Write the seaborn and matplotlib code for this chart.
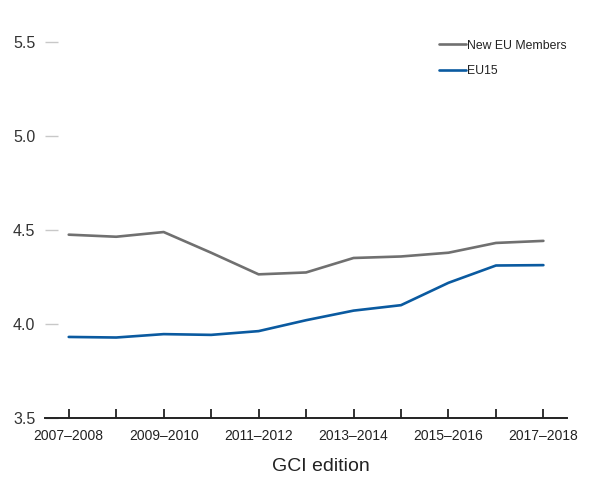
import numpy as np
import pandas as pd
import matplotlib
matplotlib.use("Agg")
import matplotlib.pyplot as plt
import seaborn as sns

editions = ["2007–2008", "2008–2009", "2009–2010", "2010–2011", "2011–2012", "2012–2013",
            "2013–2014", "2014–2015", "2015–2016", "2016–2017", "2017–2018"]
new_eu = [4.476, 4.465, 4.49, 4.38, 4.265, 4.275, 4.352, 4.36, 4.38, 4.432, 4.443]
eu15 = [3.932, 3.929, 3.947, 3.943, 3.963, 4.021, 4.072, 4.101, 4.22, 4.312, 4.314]
series_names = ["New EU Members", "EU15"]
colors = ["#707070", "#0a5aa0"]
yticks = [3.5, 4.0, 4.5, 5.0, 5.5]
xlabel = "GCI edition"

df = pd.DataFrame({
    "edition": editions * 2,
    "value": new_eu + eu15,
    "series": [series_names[0]] * len(editions) + [series_names[1]] * len(editions),
})

sns.set_theme(style="white")
plt.rcParams["font.family"] = ["Liberation Sans", "DejaVu Sans"]

fig = plt.figure(figsize=(5.92, 4.79), dpi=100)
ax = fig.add_axes([0.076, 0.127, 0.882, 0.785])

sns.lineplot(data=df, x="edition", y="value", hue="series", hue_order=series_names,
             palette=colors, linewidth=1.9, ax=ax, sort=False)

ax.set_xlim(-0.5, len(editions) - 0.5)
ax.set_ylim(3.5, 5.5)
ax.set_yticks(yticks)
ax.set_yticklabels([f"{v:.1f}" for v in yticks], fontsize=11.5, color="#333333")
ax.tick_params(axis="y", direction="in", length=9.5, width=1.0, color="#c8c8c8", pad=7, left=True)

ax.set_xticks(range(len(editions)))
ax.set_xticklabels([lab if i % 2 == 0 else "" for i, lab in enumerate(editions)], fontsize=10, color="#222222")
ax.tick_params(axis="x", direction="in", length=6.5, width=1.3, color="#222222", pad=8, bottom=True)

for s in ["top", "right", "left"]:
    ax.spines[s].set_visible(False)
ax.spines["bottom"].set_color("#222222")
ax.spines["bottom"].set_linewidth(1.4)

ax.set_xlabel(xlabel, fontsize=14, color="#222222", labelpad=13)
ax.xaxis.set_label_coords(0.529, -0.105)
ax.set_ylabel("")

leg = ax.legend(loc="upper right", bbox_to_anchor=(1.008, 1.02), frameon=False, fontsize=8.8,
                handlelength=2.2, handletextpad=0.1, labelspacing=1.1, borderaxespad=0)
for t in leg.get_texts():
    t.set_color("#222222")

fig.savefig("out.png", dpi=100)
